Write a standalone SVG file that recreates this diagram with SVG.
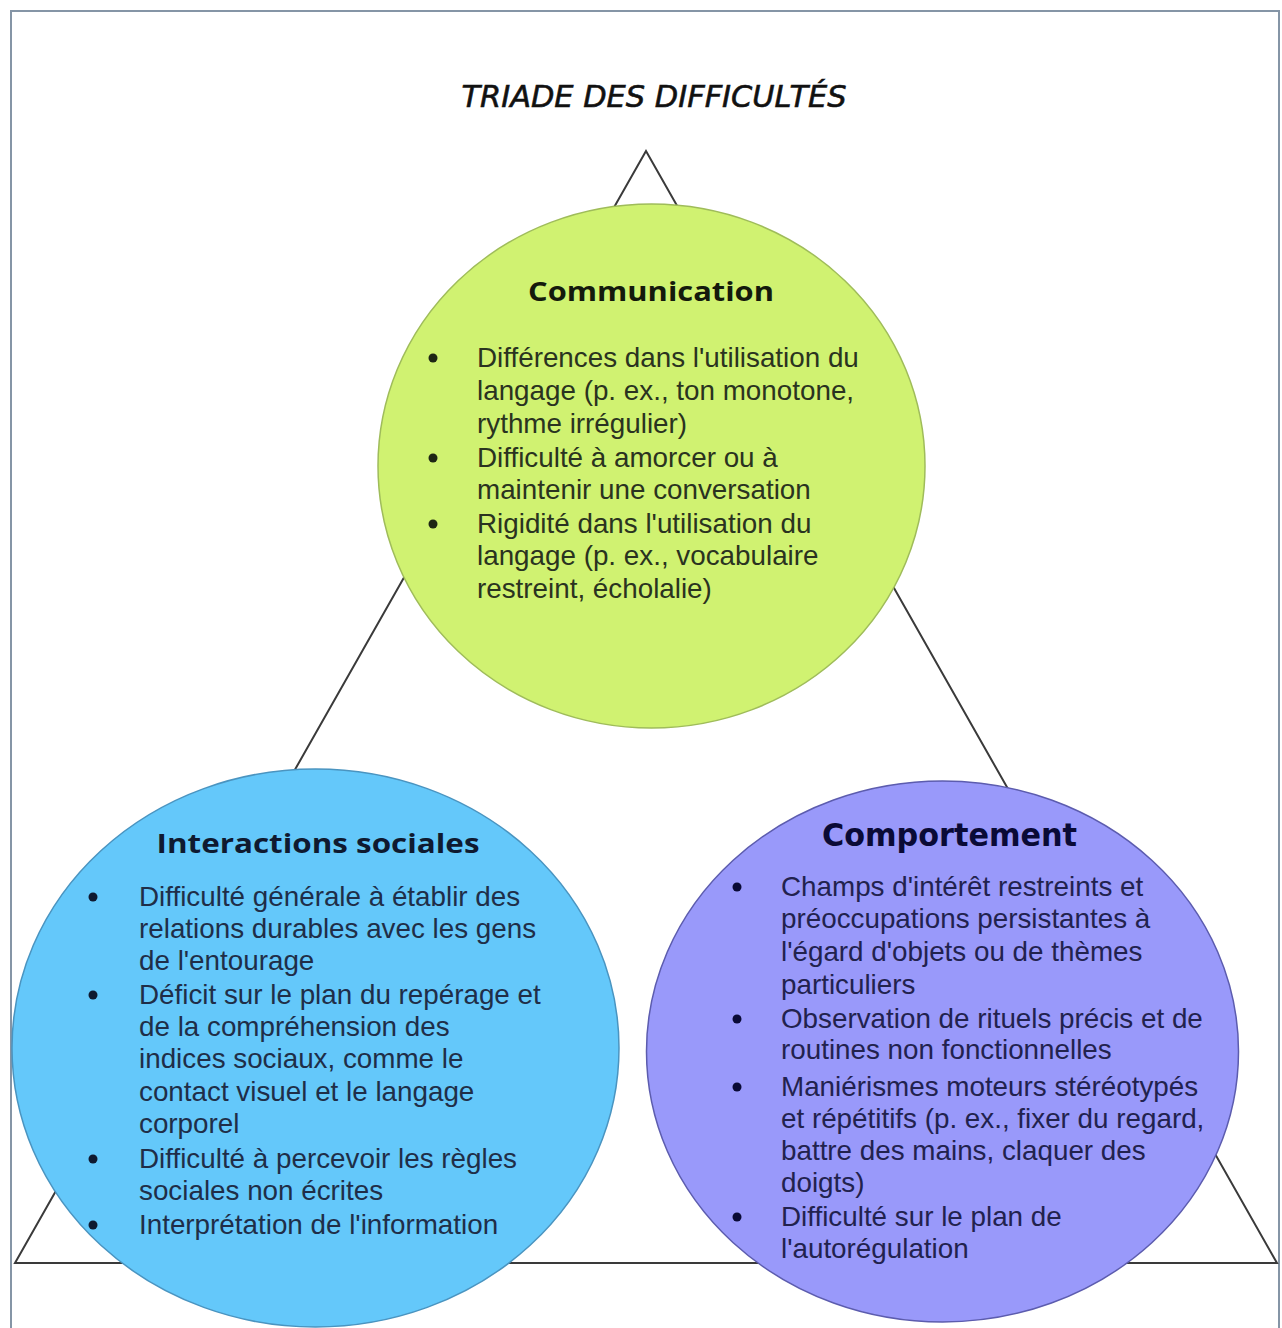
<svg xmlns="http://www.w3.org/2000/svg" width="1282" height="1328" viewBox="0 0 1282 1328">
<style>
.frame{fill:none;stroke:#8595a6;stroke-width:2}
.tri{fill:none;stroke:#3a3a3a;stroke-width:2}
.title{font-family:"DejaVu Sans",Verdana,sans-serif;font-style:italic;font-size:30px;fill:#111;stroke:#111;stroke-width:0.6;text-anchor:middle}
.head{font-family:"Open Sans","DejaVu Sans",sans-serif;font-weight:700;font-size:27px;text-anchor:middle}
.head2{font-family:"DejaVu Sans",Verdana,sans-serif;font-weight:700;font-size:32px;text-anchor:middle}
.txt{font-family:"Liberation Sans",Arial,sans-serif;font-size:27.8px}
.g-txt{fill:#2a3320}
.b-txt{fill:#1f2e48}
.p-txt{fill:#22224e}
</style>
<rect x="0" y="0" width="1282" height="1328" fill="#ffffff"/>
<g id="frame">
<path class="frame" d="M11,1328 V11 H1279 V1328"/>
</g>
<text class="title" x="654" y="107" textLength="385" lengthAdjust="spacingAndGlyphs">TRIADE DES DIFFICULTÉS</text>
<g id="connectors">
<polygon class="tri" points="646,151 15,1263 1277,1263"/>
</g>
<g id="node-communication">
<ellipse cx="651.5" cy="466" rx="273.5" ry="262" fill="#d0f271" stroke="#9fbc5a" stroke-width="1.5"/>
<text class="head" x="651" y="301" fill="#141a0c" textLength="246" lengthAdjust="spacingAndGlyphs">Communication</text>
<g fill="#1e2614">
<circle cx="433" cy="358" r="4.5"/>
<circle cx="433" cy="458" r="4.5"/>
<circle cx="433" cy="524" r="4.5"/>
</g>
<g class="txt g-txt">
<text x="477" y="367">Différences dans l'utilisation du</text>
<text x="477" y="400">langage (p. ex., ton monotone,</text>
<text x="477" y="433">rythme irrégulier)</text>
<text x="477" y="467">Difficulté à amorcer ou à</text>
<text x="477" y="499">maintenir une conversation</text>
<text x="477" y="533">Rigidité dans l'utilisation du</text>
<text x="477" y="565">langage (p. ex., vocabulaire</text>
<text x="477" y="598">restreint, écholalie)</text>
</g>
</g>
<g id="node-interactions">
<ellipse cx="315.5" cy="1048" rx="303.5" ry="279" fill="#64c8fa" stroke="#4a94c0" stroke-width="1.5"/>
<text class="head" x="318" y="853" fill="#0f1a30" textLength="323" lengthAdjust="spacingAndGlyphs">Interactions sociales</text>
<g fill="#0f1a30">
<circle cx="93" cy="897" r="4.5"/>
<circle cx="93" cy="995" r="4.5"/>
<circle cx="93" cy="1159" r="4.5"/>
<circle cx="93" cy="1225" r="4.5"/>
</g>
<g class="txt b-txt">
<text x="139" y="906">Difficulté générale à établir des</text>
<text x="139" y="938">relations durables avec les gens</text>
<text x="139" y="970">de l'entourage</text>
<text x="139" y="1004">Déficit sur le plan du repérage et</text>
<text x="139" y="1036">de la compréhension des</text>
<text x="139" y="1068">indices sociaux, comme le</text>
<text x="139" y="1101">contact visuel et le langage</text>
<text x="139" y="1133">corporel</text>
<text x="139" y="1168">Difficulté à percevoir les règles</text>
<text x="139" y="1200">sociales non écrites</text>
<text x="139" y="1234">Interprétation de l'information</text>
</g>
</g>
<g id="node-comportement">
<ellipse cx="942.5" cy="1051.5" rx="296" ry="270.5" fill="#9999fa" stroke="#5c5cae" stroke-width="1.5"/>
<text class="head2" x="949.5" y="846" fill="#0a0a36" textLength="255" lengthAdjust="spacingAndGlyphs">Comportement</text>
<g fill="#0a0a36">
<circle cx="737" cy="887" r="4.5"/>
<circle cx="737" cy="1019" r="4.5"/>
<circle cx="737" cy="1087" r="4.5"/>
<circle cx="737" cy="1217" r="4.5"/>
</g>
<g class="txt p-txt">
<text x="781" y="896">Champs d'intérêt restreints et</text>
<text x="781" y="928">préoccupations persistantes à</text>
<text x="781" y="961">l'égard d'objets ou de thèmes</text>
<text x="781" y="994">particuliers</text>
<text x="781" y="1028">Observation de rituels précis et de</text>
<text x="781" y="1059">routines non fonctionnelles</text>
<text x="781" y="1096">Maniérismes moteurs stéréotypés</text>
<text x="781" y="1128">et répétitifs (p. ex., fixer du regard,</text>
<text x="781" y="1160">battre des mains, claquer des</text>
<text x="781" y="1192">doigts)</text>
<text x="781" y="1226">Difficulté sur le plan de</text>
<text x="781" y="1258">l'autorégulation</text>
</g>
</g>
</svg>
